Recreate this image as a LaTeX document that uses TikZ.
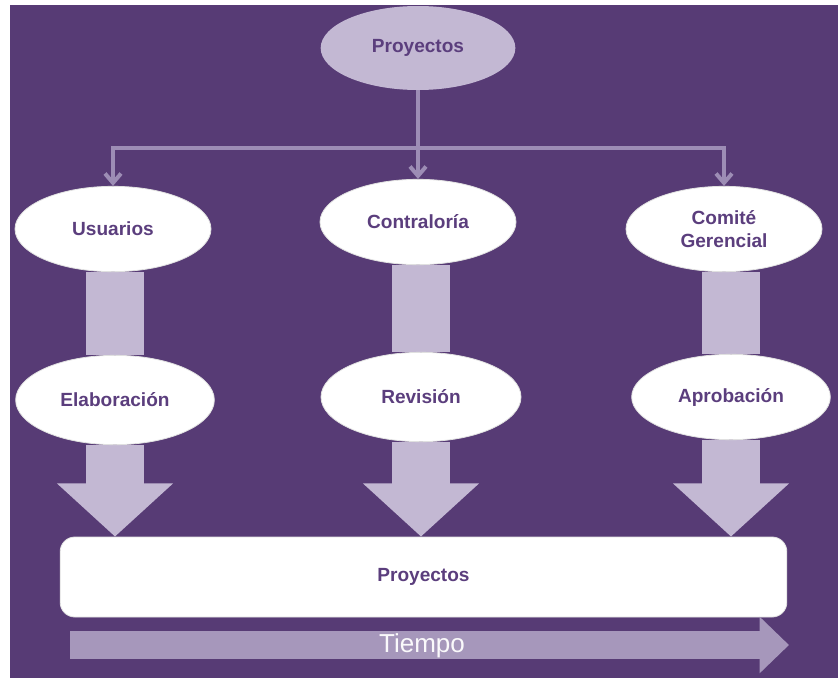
\documentclass[tikz,border=0pt]{standalone}
\usepackage{fontspec}
\setmainfont{Liberation Sans}
\usetikzlibrary{shapes.geometric,arrows.meta}

\definecolor{bgpurple}{RGB}{87,59,117}
\definecolor{txtpurple}{RGB}{91,62,125}
\definecolor{lavender}{RGB}{195,184,211}
\definecolor{treeline}{RGB}{157,141,181}
\definecolor{timeline}{RGB}{166,151,187}

\pgfdeclarelayer{back}
\pgfdeclarelayer{bars}
\pgfsetlayers{back,bars,main}

\tikzset{every picture/.style={line width=0.75pt}}
\tikzset{
    oval/.style={ellipse, fill=white, draw=black!12, line width=0.6pt, inner sep=0pt,
        minimum width=147pt, minimum height=64pt, align=center, text=txtpurple,
        font=\fontsize{14.3}{17}\selectfont\bfseries},
    treearrow/.style={draw=treeline, line width=3pt, -{Straight Barb[length=7pt,width=12pt]}},
    fatbar/.style={draw=lavender, line width=43.5pt},
    fatarrow/.style={draw=lavender, line width=43.5pt, -{Triangle[width=85pt,length=40pt]}}
}

\begin{document}
\begin{tikzpicture}[x=0.75pt,y=0.75pt,yscale=-1,xscale=1]
    \useasboundingbox (0,0) rectangle (838,678);
    \begin{pgfonlayer}{back}
    \fill[white] (0,0) rectangle (838,678);
    \fill[bgpurple] (10,5) rectangle (838,678);
    \end{pgfonlayer}
    % Text Node
    \node [oval, fill=lavender, draw=none, minimum width=146pt, minimum height=63pt] (proy) at (418,48) {Proyectos};
    % Text Node
    \node [oval] (usu) at (113,229) {Usuarios};
    \node [oval] (cont) at (418,222) {Contraloría};
    \node [oval] (comi) at (724,229) {Comité\\Gerencial};
    % Text Node
    \node [oval, minimum width=149pt, minimum height=67pt] (elab) at (115,400) {Elaboración};
    \node [oval, minimum width=150pt, minimum height=67pt] (revi) at (421,397) {Revisión};
    \node [oval, minimum width=149pt, minimum height=64pt] (apro) at (731,397) {Aprobación};
    % Text Node
    \node [rectangle, rounded corners=11pt, fill=white, draw=black!12, line width=0.6pt,
        minimum width=545pt, minimum height=60pt, text=txtpurple,
        font=\fontsize{14.3}{17}\selectfont\bfseries] (proj) at (423.5,577) {Proyectos};
    % Connection
    \coordinate (hub) at (418,148);
    \draw [treearrow] (proy.south) -- (cont.north);
    \draw [treearrow] (hub) -| (usu.north);
    \draw [treearrow] (hub) -| (comi.north);
    % Connection
    \begin{pgfonlayer}{bars}
    \draw [fatbar] (elab.north |- usu.south) -- (elab.north);
    \draw [fatbar] (revi.north |- cont.south) -- (revi.north);
    \draw [fatbar] (apro.north |- comi.south) -- (apro.north);
    \draw [fatarrow] (elab.south) -- (elab.south |- proj.north);
    \draw [fatarrow] (revi.south) -- (revi.south |- proj.north);
    \draw [fatarrow] (apro.south) -- (apro.south |- proj.north);
    \end{pgfonlayer}
    % Connection
    \coordinate (tstart) at (70,645);
    \coordinate (tend) at (789,645);
    \draw [draw=timeline, line width=21pt, -{Triangle[width=41pt,length=22pt]}] (tstart) -- (tend);
    \node [text=white!92!lavender, font=\fontsize{19.5}{22}\selectfont] (tiempo) at (422,646) {Tiempo};
\end{tikzpicture}
\end{document}
